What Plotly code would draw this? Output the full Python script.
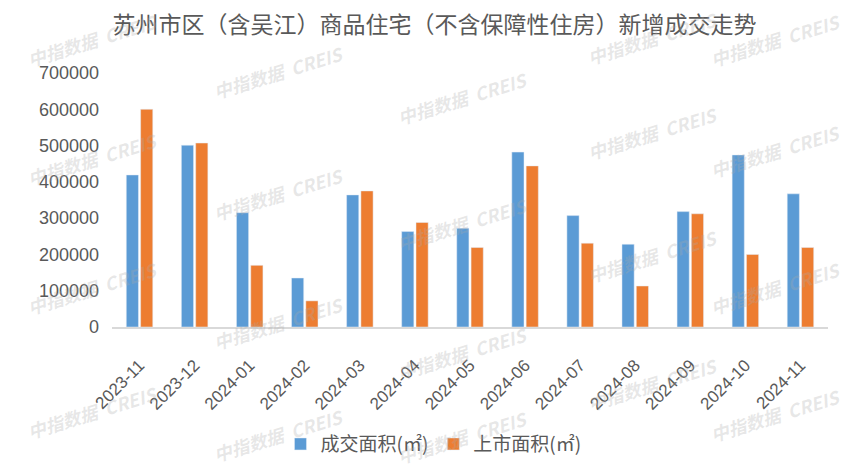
import plotly.graph_objects as go

months = ["2023-11", "2023-12", "2024-01", "2024-02", "2024-03", "2024-04", "2024-05",
          "2024-06", "2024-07", "2024-08", "2024-09", "2024-10", "2024-11"]
deal_area = [419000, 501000, 315000, 135000, 364000, 263000, 272000,
             482000, 307000, 228000, 318000, 474000, 367000]
supply_area = [600000, 507000, 170000, 72000, 375000, 288000, 219000,
               444000, 231000, 113000, 312000, 200000, 219000]
series_names = ["成交面积(㎡)", "上市面积(㎡)"]
title_text = "苏州市区（含吴江）商品住宅（不含保障性住房）新增成交走势"
y_ticks = [0, 100000, 200000, 300000, 400000, 500000, 600000, 700000]
watermark = "中指数据  CREIS"

BLUE = "#5B9BD5"
ORANGE = "#ED7D31"
GRAY = "#595959"
FONT = "Noto Sans CJK SC, Liberation Sans, sans-serif"

W, H = 852, 475
ML, MR, MT, MB = 112, 24, 73, 146

fig = go.Figure()
fig.add_trace(go.Bar(x=months, y=deal_area, name=series_names[0], marker_color=BLUE))
fig.add_trace(go.Bar(x=months, y=supply_area, name=series_names[1], marker_color=ORANGE))

# faint tiled watermark (decoration), pixel centres in the full figure
wm_cols = [(92, [40, 160, 290, 415]), (278, [72, 195, 325, 438]),
           (462, [98, 225, 355, 440]), (652, [38, 133, 257, 386]),
           (775, [40, 152, 290, 418])]
for cx, ys in wm_cols:
    for cy in ys:
        fig.add_annotation(
            text="<b><i>" + watermark + "</i></b>",
            x=(cx - ML) / (W - ML - MR), y=(H - MB - cy) / (H - MT - MB),
            xref="paper", yref="paper", showarrow=False, textangle=-17,
            font=dict(family=FONT, size=18, color="rgba(170,170,170,0.28)"),
            xanchor="center", yanchor="middle")

fig.update_layout(
    width=W, height=H,
    paper_bgcolor="white", plot_bgcolor="white",
    margin=dict(l=ML, r=MR, t=MT, b=MB),
    barmode="group", bargap=0.48, bargroupgap=0.15,
    title=dict(text=title_text, x=0.51, xanchor="center", y=0.948, yanchor="middle",
               font=dict(family=FONT, size=23, color=GRAY)),
    legend=dict(orientation="h", x=0.449, xanchor="center", y=-0.461, yanchor="middle",
                font=dict(family=FONT, size=19, color=GRAY),
                itemwidth=30, traceorder="normal"),
    showlegend=True,
    font=dict(family=FONT, color=GRAY),
)
fig.update_xaxes(type="category", tickangle=-45, showline=True, linecolor="#D9D9D9",
                 linewidth=1.5, ticks="", ticklabelstandoff=20, automargin=False,
                 tickfont=dict(family="Liberation Sans, sans-serif", size=17, color=GRAY),
                 showgrid=False)
fig.update_yaxes(range=[0, 700000], tickvals=y_ticks, ticktext=[str(v) for v in y_ticks],
                 showgrid=False, zeroline=False, showline=False, ticks="",
                 ticklabelstandoff=12, automargin=False,
                 tickfont=dict(family="Liberation Sans, sans-serif", size=18, color=GRAY))

fig.write_html("out.html")
